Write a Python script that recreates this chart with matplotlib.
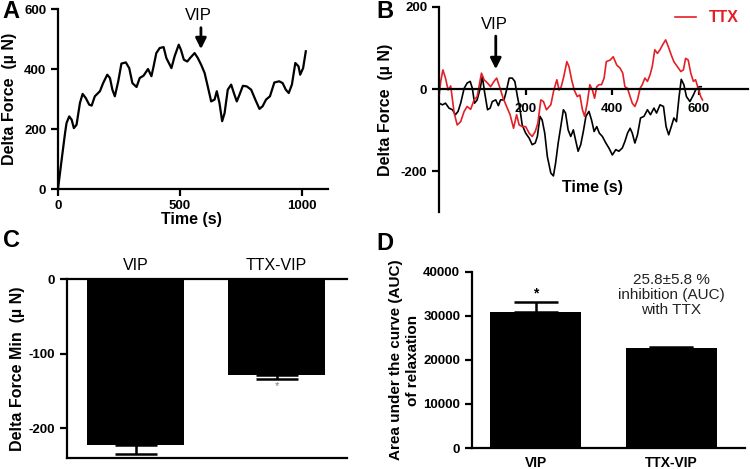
import numpy as np
import matplotlib.pyplot as plt

plt.rcParams['font.family'] = ['Liberation Sans', 'DejaVu Sans']
plt.rcParams['font.weight'] = 'bold'
plt.rcParams['axes.labelweight'] = 'bold'
plt.rcParams['axes.unicode_minus'] = False

# Panel A - VIP trace
time_a = [0, 15, 29, 35, 46, 56, 65, 76, 90, 101, 114, 128, 138, 151, 172, 185, 202, 213,
          223, 233, 247, 260, 278, 292, 305, 322, 335, 351, 369, 383, 392, 403, 417, 433,
          444, 465, 478, 495, 504, 516, 530, 542, 560, 573, 587, 601, 614, 628, 642, 651,
          662, 673, 683, 696, 710, 721, 733, 744, 758, 774, 792, 809, 826, 839, 853, 869,
          887, 907, 921, 934, 946, 959, 973, 986, 993, 1005, 1016]
force_a = [0, 98, 187, 220, 242, 231, 203, 214, 287, 317, 303, 281, 278, 309, 326, 353, 381, 370,
           331, 309, 359, 418, 422, 403, 353, 340, 370, 378, 400, 376, 409, 453, 470, 473,
           437, 403, 442, 481, 464, 431, 425, 437, 453, 437, 414, 387, 342, 292, 298, 326,
           287, 226, 253, 331, 348, 320, 292, 314, 344, 342, 331, 298, 267, 276, 298, 309,
           355, 359, 353, 331, 320, 348, 420, 409, 381, 403, 459]

# Panel B - control (black) and TTX (red) traces
time_b_ctrl = [0, 8, 15, 23, 31, 38, 44, 50, 58, 65, 72, 77, 82, 88, 95, 100, 105, 112, 118,
               123, 131, 137, 142, 150, 155, 162, 169, 175, 181, 187, 192, 200, 208, 215, 222,
               227, 233, 238, 244, 250, 258, 264, 269, 275, 281, 287, 292, 298, 304, 310, 315,
               321, 327, 333, 339, 346, 352, 358, 364, 370, 377, 385, 392, 400, 408, 415, 423,
               429, 435, 441, 446, 452, 458, 465, 473, 481, 488, 496, 502, 510, 518, 524, 530,
               536, 542, 548, 554, 559, 565, 571, 579, 587, 592, 600, 605]
force_b_ctrl = [-34, -38, -34, -46, -50, -62, -54, -34, 2, 15, 19, 2, -34, -26, 2, 31, -6, -50,
                -46, -30, -26, -40, -26, -26, -6, 27, 27, 19, -18, -50, -87, -107, -119, -135,
                -131, -115, -66, -75, -107, -164, -204, -211, -180, -131, -91, -50, -58, -99,
                -115, -99, -123, -151, -135, -103, -66, -54, -75, -103, -91, -107, -115, -131,
                -143, -160, -147, -151, -143, -127, -107, -95, -107, -131, -111, -70, -66, -50,
                -62, -46, -58, -38, -42, -91, -111, -91, -70, -79, -18, 24, 11, -18, -30, -14,
                -2, 6, 6]
time_b_ttx = [0, 4, 9, 15, 21, 27, 35, 42, 50, 58, 65, 73, 81, 88, 98, 104, 112, 119, 127,
              133, 141, 148, 156, 164, 172, 179, 185, 192, 200, 208, 215, 222, 228, 235, 241,
              248, 258, 265, 272, 277, 282, 288, 295, 300, 306, 312, 319, 325, 331, 336, 342,
              348, 354, 359, 364, 369, 375, 381, 386, 395, 402, 410, 418, 424, 429, 435, 441,
              446, 452, 458, 464, 469, 475, 481, 487, 492, 498, 504, 510, 516, 523, 529, 536,
              542, 550, 558, 564, 569, 575, 581, 587, 592, 598, 604, 608]
force_b_ttx = [-18, 19, 47, 27, -2, 8, -58, -87, -79, -54, -42, -49, -26, -18, 39, 23, 15, 6,
               19, 27, 2, -22, -42, -62, -95, -62, -87, -91, -91, -107, -115, -103, -83, -26,
               -30, -50, -38, -2, 23, -2, 6, 31, 67, 55, 23, -2, -18, -14, -50, -66, -34, 11,
               -2, -22, 6, 11, 11, 27, 67, 71, 79, 59, 51, 39, 6, 2, -18, -34, -42, -26, 2, 11,
               27, 19, 35, 55, 96, 87, 96, 108, 120, 104, 83, 67, 55, 43, 47, 75, 71, 39, 19,
               23, 2, -18, -26]

# Panel C - minimum delta force
groups = ['VIP', 'TTX-VIP']
min_force = [-222, -129]
min_err = [13, 5]

# Panel D - area under the curve
auc = [31000, 22700]
auc_err = [2200, 300]

W, H = 750, 469
red = '#e41f26'


def box(l, t, r, b):
    return [l / W, 1 - b / H, (r - l) / W, (b - t) / H]


def style(ax):
    for s in ax.spines.values():
        s.set_linewidth(1.6)
    ax.tick_params(width=1.6, length=5, labelsize=9.5)
    for lab in ax.get_xticklabels() + ax.get_yticklabels():
        lab.set_fontweight('bold')


fig = plt.figure(figsize=(7.5, 4.69), dpi=100)

# ---- A ----
axA = fig.add_axes(box(58, 9, 328, 189))
axA.plot(time_a, force_a, color='black', lw=1.6)
axA.set_xlim(0, 1107)
axA.set_ylim(0, 600)
axA.set_xticks([0, 500, 1000])
axA.set_yticks([0, 200, 400, 600])
axA.spines['top'].set_visible(False)
axA.spines['right'].set_visible(False)
style(axA)
axA.tick_params(axis='x', pad=3)
axA.set_ylabel('Delta Force  (\u00b5 N)', fontsize=11.5)
axA.yaxis.set_label_coords(-0.152, 0.5)
axA.set_xlabel('Time (s)', fontsize=11.5)
axA.xaxis.set_label_coords(0.496, -0.128)
axA.annotate('', xy=(586, 457), xytext=(586, 547),
             arrowprops=dict(arrowstyle='-|>', color='black', lw=2, mutation_scale=16))
axA.text(574, 577, 'VIP', ha='center', va='center', fontsize=12, fontweight='normal')

# ---- B ----
axB = fig.add_axes(box(439, 7, 748, 212.5))
axB.plot(time_b_ctrl, force_b_ctrl, color='black', lw=1.2)
axB.plot(time_b_ttx, force_b_ttx, color=red, lw=1.2, label='TTX')
axB.set_xlim(0, 713)
axB.set_ylim(-300, 200)
axB.set_xticks([200, 400, 600])
axB.set_yticks([-200, 0, 200])
axB.spines['top'].set_visible(False)
axB.spines['right'].set_visible(False)
axB.spines['bottom'].set_position(('data', 0))
style(axB)
axB.tick_params(axis='x', length=4, pad=6)
axB.set_ylabel('Delta Force  (\u00b5 N)', fontsize=11.5)
axB.yaxis.set_label_coords(-0.149, 0.5)
axB.text(0.498, 0.12, 'Time (s)', transform=axB.transAxes, ha='center', va='center',
         fontsize=11.5)
axB.annotate('', xy=(131, 42), xytext=(131, 136),
             arrowprops=dict(arrowstyle='-|>', color='black', lw=2, mutation_scale=16))
axB.text(127, 158, 'VIP', ha='center', va='center', fontsize=12, fontweight='normal')
leg = axB.legend(loc='upper right', frameon=False, handlelength=1.3, fontsize=11.5,
                 bbox_to_anchor=(1.0, 1.03), borderaxespad=0.2, handletextpad=0.8)
for t in leg.get_texts():
    t.set_color(red)

# ---- C ----
axC = fig.add_axes(box(67, 279, 347, 458))
xc = np.arange(len(groups))
axC.bar(xc, min_force, width=0.69, color='black')
axC.errorbar(xc, min_force, yerr=[min_err, [0, 0]], fmt='none', ecolor='black',
             elinewidth=1.8, capsize=15, capthick=1.8)
axC.set_xlim(-0.49, 1.5)
axC.set_ylim(-240, 0)
axC.set_yticks([-200, -100, 0])
axC.spines['right'].set_visible(False)
axC.xaxis.tick_top()
axC.set_xticks(xc)
style(axC)
axC.set_xticklabels(groups, fontsize=11.5, fontweight='normal')
axC.tick_params(axis='x', length=0, pad=4)
axC.set_ylabel('Delta Force Min  (\u00b5 N)', fontsize=11.5)
axC.yaxis.set_label_coords(-0.15, 0.5)
axC.text(1, -144, '*', ha='center', va='center', fontsize=8, color='#777777',
         fontweight='normal')

# ---- D ----
axD = fig.add_axes(box(472, 272, 745, 448))
xd = np.arange(len(groups))
axD.bar(xd, auc, width=0.674, color='black')
axD.errorbar(xd, auc, yerr=[[0, 0], auc_err], fmt='none', ecolor='black',
             elinewidth=1.8, capsize=16, capthick=1.8)
axD.set_xlim(-0.474, 1.548)
axD.set_ylim(0, 40000)
axD.set_yticks([0, 10000, 20000, 30000, 40000])
axD.spines['top'].set_visible(False)
axD.spines['right'].set_visible(False)
axD.set_xticks(xd)
style(axD)
axD.set_xticklabels(groups, fontsize=10, fontweight='bold')
axD.tick_params(axis='x', length=0, pad=6)
axD.set_ylabel('Area under the curve (AUC)\nof relaxation', fontsize=11, linespacing=1.3)
axD.yaxis.set_label_coords(-0.19, 0.5)
axD.text(0, 35200, '*', ha='center', va='center', fontsize=10)
axD.text(1, 34800, '25.8\u00b15.8 %\ninhibition (AUC)\nwith TTX', ha='center', va='center',
         fontsize=11, fontweight='normal', linespacing=1.1, color='#222222')

# panel letters
for letter, (px, py) in zip('ABCD', [(11, 12), (385, 12), (12, 240), (385, 243)]):
    fig.text(px / W, 1 - py / H, letter, fontsize=17, fontweight='bold', ha='center', va='center')

fig.savefig('out.png', dpi=100)
